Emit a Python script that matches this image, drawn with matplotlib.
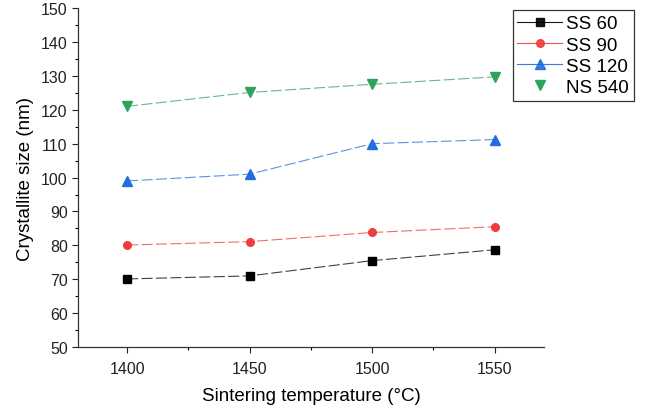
import matplotlib.pyplot as plt
from matplotlib.ticker import MultipleLocator
from matplotlib.lines import Line2D

plt.rcParams['font.family'] = ['Liberation Sans', 'DejaVu Sans']

# 烧结温度
temps = [1400, 1450, 1500, 1550]
ss60 = [70.1, 71.0, 75.5, 78.7]
ss90 = [80.1, 81.1, 83.8, 85.5]
ss120 = [99.0, 101.0, 110.0, 111.2]
ns540 = [121.0, 125.1, 127.5, 129.7]

labels = ['SS 60', 'SS 90', 'SS 120', 'NS 540']
colors = ['#000000', '#f03c3c', '#1f6fdc', '#2ea35e']
markers = ['s', 'o', '^', 'v']

fig = plt.figure(figsize=(6.45, 4.1), dpi=100)
ax = fig.add_axes([0.121, 0.151, 0.722, 0.827])

series = [ss60, ss90, ss120, ns540]
handles = []
for ys, lab, c, m in zip(series, labels, colors, markers):
    ax.plot(temps, ys, color=c, lw=0.8, ls=(0, (10, 3)), alpha=0.75)
    ax.plot(temps, ys, color=c, ls='none', marker=m, ms=6.5 if m in '^v' else 5.5)
    if lab == 'NS 540':
        h = Line2D([], [], color=c, ls='none', marker=m, ms=6.5)
    else:
        h = Line2D([], [], color=c, lw=0.8, alpha=0.9, marker=m, ms=6.5 if m == '^' else 5.5)
    handles.append(h)

ax.set_xlim(1380, 1570)
ax.set_ylim(50, 150)
ax.xaxis.set_major_locator(MultipleLocator(50))
ax.xaxis.set_minor_locator(MultipleLocator(25))
ax.yaxis.set_major_locator(MultipleLocator(10))
ax.yaxis.set_minor_locator(MultipleLocator(5))
ax.tick_params(which='major', length=4, width=0.8, labelsize=11.5, colors='#222222')
ax.tick_params(axis='x', pad=6)
ax.tick_params(which='minor', length=2.5, width=0.8)
ax.spines['top'].set_visible(False)
ax.spines['right'].set_visible(False)
for s in ['left', 'bottom']:
    ax.spines[s].set_linewidth(0.9)
    ax.spines[s].set_color('#333333')

ax.set_xlabel('Sintering temperature (°C)', fontsize=13.5, labelpad=8)
ax.set_ylabel('Crystallite size (nm)', fontsize=13.5, labelpad=5)

leg = fig.legend(handles, labels, loc='upper left', bbox_to_anchor=(0.795, 0.972),
                 borderaxespad=0,
                 fontsize=13.5, frameon=True, fancybox=False, edgecolor='black',
                 handlelength=2.4, handletextpad=0.2, borderpad=0.25, labelspacing=0.22)
leg.get_frame().set_linewidth(0.9)

fig.savefig('out.png', dpi=100)
